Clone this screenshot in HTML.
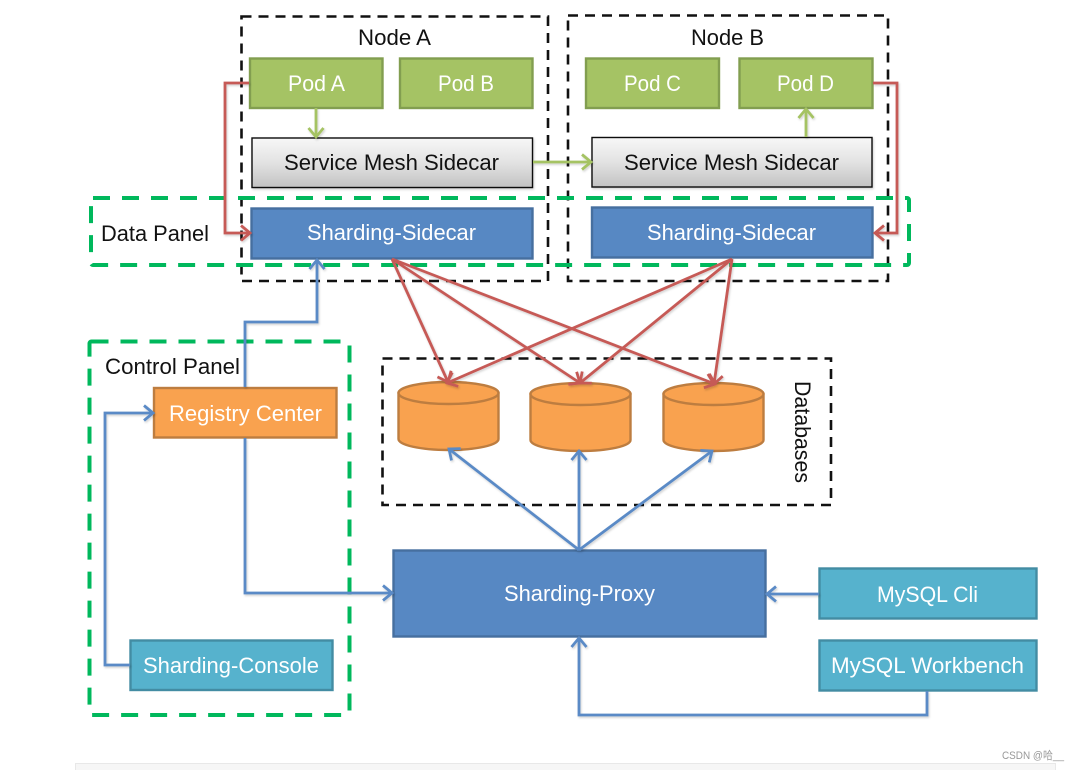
<!DOCTYPE html>
<html><head><meta charset="utf-8"><style>
html,body{margin:0;padding:0;background:#fff;width:1080px;height:770px;overflow:hidden}
svg{display:block;filter:blur(.35px)}
text{font-family:"Liberation Sans","Noto Sans CJK SC",sans-serif;font-size:22px}
.w{fill:#fff}.k{fill:#111}
.dk{fill:none;stroke:#111;stroke-width:2.6;stroke-dasharray:10 7}
.dg{fill:none;stroke:#00b85c;stroke-width:4;stroke-dasharray:17 12}
.c{fill:none;stroke-width:2.8;stroke-linejoin:miter}
.r{stroke:#c65a57}.b{stroke:#5a8ac6}.g{stroke:#a5c364}
</style></head><body>
<svg width="1080" height="770" viewBox="0 0 1080 770" xmlns="http://www.w3.org/2000/svg">
<defs>
<linearGradient id="gr" x1="0" y1="0" x2="0" y2="1"><stop offset="0" stop-color="#f7f7f7"/><stop offset=".5" stop-color="#e2e2e2"/><stop offset="1" stop-color="#c2c2c2"/></linearGradient>
<filter id="s" x="-10%" y="-10%" width="120%" height="120%"><feDropShadow dx="1" dy="1.5" stdDeviation="1" flood-color="#000" flood-opacity=".18"/></filter>
<marker id="ar" markerUnits="userSpaceOnUse" markerWidth="24" markerHeight="24" refX="13" refY="12" orient="auto"><path d="M4 4.5L13 12L4 19.5" fill="none" stroke="#c65a57" stroke-width="2.8"/></marker>
<marker id="ab" markerUnits="userSpaceOnUse" markerWidth="24" markerHeight="24" refX="13" refY="12" orient="auto"><path d="M4 4.5L13 12L4 19.5" fill="none" stroke="#5a8ac6" stroke-width="2.8"/></marker>
<marker id="ag" markerUnits="userSpaceOnUse" markerWidth="24" markerHeight="24" refX="13" refY="12" orient="auto"><path d="M4 4.5L13 12L4 19.5" fill="none" stroke="#a5c364" stroke-width="2.8"/></marker>
</defs>

<rect x="75.5" y="763.5" width="980" height="20" fill="#f6f6f6" stroke="#e8e8e8"/>

<!-- black dashed -->
<rect class="dk" x="241.5" y="16.5" width="306.5" height="264.5"/>
<rect class="dk" x="568" y="15.5" width="320" height="265.5"/>
<rect class="dk" x="382.5" y="358.5" width="448.5" height="146.5"/>

<!-- cylinders -->
<g fill="#f9a24f" stroke="#bd7d40" stroke-width="2.4">
<path d="M398.5 393v46c0 6 22 11 50 11s50-5 50-11v-46z"/><ellipse cx="448.5" cy="393" rx="50" ry="11"/>
<path d="M530.5 394v46c0 6 22 11 50 11s50-5 50-11v-46z"/><ellipse cx="580.5" cy="394" rx="50" ry="11"/>
<path d="M663.5 394v46c0 6 22 11 50 11s50-5 50-11v-46z"/><ellipse cx="713.5" cy="394" rx="50" ry="11"/>
</g>

<!-- boxes -->
<g stroke-width="2.4">
<g fill="#a5c364" stroke="#829e50">
<rect x="250" y="58.5" width="132.5" height="49.5"/>
<rect x="400" y="58.5" width="132.5" height="49.5"/>
<rect x="586" y="58.5" width="133" height="49.5"/>
<rect x="739.5" y="58.5" width="133" height="49.5"/>
</g>
<g fill="url(#gr)" stroke="#111" stroke-width="1.4" filter="url(#s)">
<rect x="252" y="138" width="280.5" height="49.5"/>
<rect x="592" y="137.5" width="280" height="49.5"/>
</g>
<g fill="#5788c3" stroke="#466f9f">
<rect x="251.5" y="208.5" width="281" height="50"/>
<rect x="592" y="207.5" width="280.5" height="50"/>
<rect x="393.5" y="550.5" width="372" height="86"/>
</g>
<rect x="154" y="388" width="182.5" height="49.5" fill="#f9a24f" stroke="#bd7d40"/>
<g fill="#56b2cd" stroke="#438ca3">
<rect x="130.5" y="640.5" width="202" height="49.5"/>
<rect x="819.5" y="568.5" width="217" height="50"/>
<rect x="819.5" y="640.5" width="217" height="50"/>
</g>
</g>

<!-- green dashed -->
<rect class="dg" x="91" y="198" width="818" height="67" rx="2"/>
<rect class="dg" x="89.5" y="341.5" width="260" height="373.5" rx="2"/>

<!-- connectors -->
<g filter="url(#s)">
<path class="c r" d="M249 83H225V233H250" marker-end="url(#ar)"/>
<path class="c r" d="M873 83H897V233H875" marker-end="url(#ar)"/>
<path class="c g" d="M316 108V137" marker-end="url(#ag)"/>
<path class="c g" d="M533 162H591" marker-end="url(#ag)"/>
<path class="c g" d="M806 137V109" marker-end="url(#ag)"/>
<path class="c b" d="M245 387V322H317V260" marker-end="url(#ab)"/>
<path class="c b" d="M130 665H105V413H153" marker-end="url(#ab)"/>
<path class="c b" d="M245 438V593H392" marker-end="url(#ab)"/>
<path class="c b" d="M819 594H767" marker-end="url(#ab)"/>
<path class="c b" d="M927 691V715H579V638" marker-end="url(#ab)"/>
<path class="c b" d="M579 550L449 449" marker-end="url(#ab)"/>
<path class="c b" d="M579 550V451" marker-end="url(#ab)"/>
<path class="c b" d="M579 550L712 451" marker-end="url(#ab)"/>
<path class="c r" d="M392 259L448 382" marker-end="url(#ar)"/>
<path class="c r" d="M392 259L580 383" marker-end="url(#ar)"/>
<path class="c r" d="M392 259L715 384" marker-end="url(#ar)"/>
<path class="c r" d="M732 259L447 383" marker-end="url(#ar)"/>
<path class="c r" d="M732 259L580 383" marker-end="url(#ar)"/>
<path class="c r" d="M732 259L714 384" marker-end="url(#ar)"/>
</g>

<!-- labels -->
<g>
<text class="k" x="358" y="45" textLength="73" lengthAdjust="spacingAndGlyphs">Node A</text>
<text class="k" x="691" y="45" textLength="73" lengthAdjust="spacingAndGlyphs">Node B</text>
<text class="w" x="288" y="91" textLength="57" lengthAdjust="spacingAndGlyphs">Pod A</text>
<text class="w" x="438" y="91" textLength="56" lengthAdjust="spacingAndGlyphs">Pod B</text>
<text class="w" x="624" y="91" textLength="57" lengthAdjust="spacingAndGlyphs">Pod C</text>
<text class="w" x="777" y="91" textLength="57" lengthAdjust="spacingAndGlyphs">Pod D</text>
<text class="k" x="284" y="170" textLength="215" lengthAdjust="spacingAndGlyphs">Service Mesh Sidecar</text>
<text class="k" x="624" y="170" textLength="215" lengthAdjust="spacingAndGlyphs">Service Mesh Sidecar</text>
<text class="w" x="307" y="240" textLength="169" lengthAdjust="spacingAndGlyphs">Sharding-Sidecar</text>
<text class="w" x="647" y="240" textLength="169" lengthAdjust="spacingAndGlyphs">Sharding-Sidecar</text>
<text class="k" x="101" y="241" textLength="108" lengthAdjust="spacingAndGlyphs">Data Panel</text>
<text class="k" x="105" y="374" textLength="135" lengthAdjust="spacingAndGlyphs">Control Panel</text>
<text class="w" x="169" y="421" textLength="153" lengthAdjust="spacingAndGlyphs">Registry Center</text>
<text class="w" x="504" y="601" textLength="151" lengthAdjust="spacingAndGlyphs">Sharding-Proxy</text>
<text class="w" x="877" y="602" textLength="101" lengthAdjust="spacingAndGlyphs">MySQL Cli</text>
<text class="w" x="831" y="673" textLength="193" lengthAdjust="spacingAndGlyphs">MySQL Workbench</text>
<text class="w" x="143" y="673" textLength="176" lengthAdjust="spacingAndGlyphs">Sharding-Console</text>
<text class="k" transform="translate(795 381) rotate(90)" x="0" y="0" textLength="102" lengthAdjust="spacingAndGlyphs">Databases</text>
<text x="1002" y="759" style="font-size:11px;fill:#999" textLength="62" lengthAdjust="spacingAndGlyphs">CSDN @哈__</text>
</g>
</svg>
</body></html>
